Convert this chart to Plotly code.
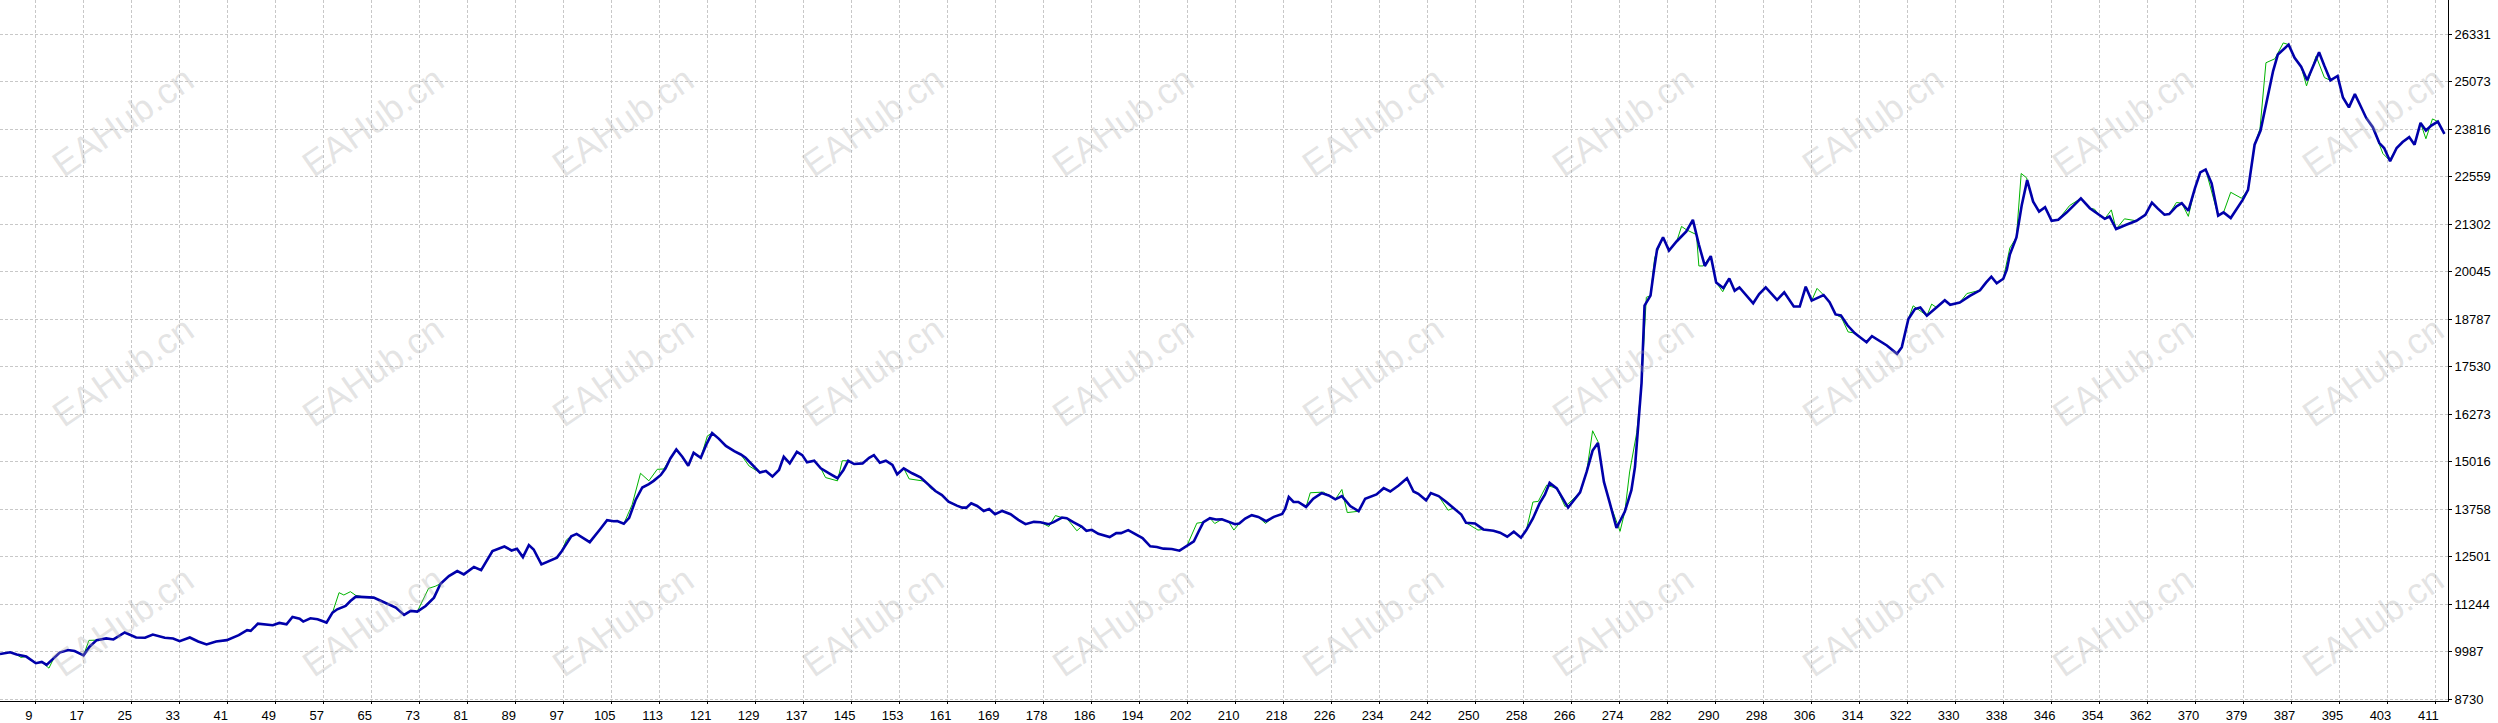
import numpy as np
import plotly.graph_objects as go

# balance curve (blue) - bar index / value
bal_bars = [3, 4.7, 5.8, 7.4, 9, 10, 10.8, 12, 13, 14.4, 15.5, 17, 18, 19.2, 20.8, 22, 23.9, 25.8, 27.3, 28.6,
            30.6, 32, 33.1, 34.8, 36.2, 37.6, 39.2, 41, 42.4, 43, 44.4, 45, 46.2, 47.6, 48.7, 49.8, 51, 52, 53.2, 53.8,
            55, 56.2, 57.7, 58.7, 59.5, 60.9, 61.7, 62.6, 64, 65.6, 66.5, 68.1, 69.3, 70.7, 71.8, 72.9, 74.3, 75.7, 76.8, 78.2,
            79.6, 80.7, 82.4, 83.6, 84.6, 85.5, 87.5, 88.7, 89.6, 90.6, 91.6, 92.4, 93.7, 95.5, 96.3, 97.1, 98.7, 99.6, 101.8, 103.5,
            104.7, 105.8, 106.4, 107.5, 108.4, 109.5, 110.6, 111.7, 112.5, 113.7, 114.5, 115.3, 116.3, 117.3, 118.3, 119.2, 120.4, 121.4, 122.3, 123.4,
            124.6, 126, 127.1, 127.9, 129, 130.3, 131.3, 132.4, 133.5, 134.3, 135.3, 136.5, 137.4, 138.2, 139.4, 140.5, 141.9, 143.3, 144.3, 145.1,
            146.1, 147.5, 148.6, 149.4, 150.4, 151.4, 152.5, 153.3, 154.4, 155.8, 157.2, 158.2, 159.7, 160.8, 161.9, 163.3, 164.2, 164.9, 165.7, 166.7,
            167.8, 168.7, 169.7, 170.9, 172.3, 173.6, 174.8, 176.2, 177.3, 178.7, 179.5, 180.9, 181.7, 182.8, 184.2, 185, 185.9, 187, 187.9, 188.9,
            190, 190.8, 192, 193.2, 194.4, 195.7, 196.8, 197.9, 199.3, 200.6, 201.8, 203, 203.8, 204.6, 205.7, 206.7, 207.7, 208.8, 209.9, 210.6,
            211.6, 212.7, 213.8, 215.1, 216.4, 217.8, 218.3, 218.9, 219.7, 220.5, 221.8, 223, 224.4, 225.6, 226.7, 227.8, 229.2, 230.6, 231.7, 233.6,
            234.8, 235.9, 237.3, 238.7, 239.8, 240.6, 241.9, 242.7, 244, 245.3, 246.5, 247.8, 248.6, 250.1, 251.5, 253.2, 254.3, 255.5, 256.6, 257.8,
            258.7, 259.8, 260.9, 261.8, 262.6, 263.8, 265.7, 267.7, 268.8, 269.8, 270.7, 271.7, 272.7, 273.8, 275.2, 276.3, 276.9, 277.4, 278, 278.5,
            279.5, 280.1, 280.6, 281.6, 282.6, 283.9, 285.5, 286.6, 287.6, 288.6, 289.6, 290.5, 291.7, 292.7, 293.6, 294.4, 295.6, 296.7, 297.7, 298.8,
            300.7, 301.9, 303.5, 304.5, 305.5, 306.5, 308.5, 309.5, 310.5, 311.4, 312.5, 313.7, 314.6, 315.7, 316.6, 317.7, 319.1, 320.8, 321.6, 322.7,
            323.8, 324.7, 325.8, 327.4, 328.8, 329.7, 331.3, 333, 334.7, 335.7, 336.6, 337.5, 338.6, 339.2, 339.7, 340.8, 341.7, 342.6, 343.6, 344.6,
            345.6, 346.7, 347.8, 349.2, 351.6, 353.1, 354.5, 355.6, 356.4, 357.5, 359.2, 360.9, 362.4, 363.5, 364.5, 365.6, 366.4, 367.6, 368.5, 369.6,
            370.7, 371.6, 372.5, 373.5, 374.6, 375.5, 376.7, 378.7, 379.6, 380.7, 381.7, 383, 383.8, 384.6, 385.7, 386.4, 387.4, 388.5, 389.5, 390.5,
            391.5, 392.4, 393.4, 394.6, 395.5, 396.5, 397.5, 398.3, 399.4, 400.5, 401.6, 402.4, 403.4, 404.5, 405.5, 406.6, 407.5, 408.5, 409.4, 410.3,
            411.4, 412.5]
bal_vals = [9929, 9974, 9914, 9861, 9686, 9720, 9641, 9817, 9966, 10034, 10008, 9895, 10123, 10296, 10341, 10315, 10498, 10367, 10358, 10445,
            10358, 10341, 10270, 10367, 10262, 10184, 10262, 10296, 10385, 10428, 10559, 10541, 10734, 10708, 10690, 10752, 10717, 10909, 10865, 10787,
            10875, 10848, 10761, 11024, 11112, 11200, 11332, 11446, 11437, 11420, 11358, 11244, 11156, 10963, 11068, 11050, 11200, 11420, 11789, 11991,
            12123, 12035, 12229, 12149, 12431, 12650, 12773, 12668, 12712, 12492, 12809, 12694, 12299, 12413, 12480, 12650, 13046, 13108, 12888, 13222,
            13468, 13441, 13445, 13375, 13532, 14012, 14335, 14422, 14510, 14667, 14841, 15103, 15339, 15147, 14911, 15252, 15121, 15496, 15776, 15627,
            15435, 15295, 15208, 15121, 14929, 14728, 14772, 14623, 14798, 15147, 14972, 15278, 15191, 14999, 15042, 14841, 14710, 14580, 14798, 15042,
            14955, 14972, 15121, 15191, 14990, 15042, 14929, 14684, 14841, 14710, 14605, 14460, 14240, 14135, 13959, 13854, 13802, 13802, 13916, 13846,
            13714, 13767, 13627, 13714, 13627, 13478, 13364, 13425, 13417, 13364, 13417, 13539, 13521, 13417, 13302, 13189, 13215, 13110, 13066, 13022,
            13127, 13127, 13206, 13110, 12996, 12777, 12759, 12716, 12707, 12663, 12777, 12908, 13171, 13417, 13521, 13486, 13495, 13434, 13364, 13380,
            13514, 13601, 13557, 13444, 13557, 13636, 13775, 14081, 13950, 13950, 13819, 14037, 14186, 14125, 14020, 14107, 13845, 13706, 14037, 14151,
            14317, 14229, 14386, 14579, 14229, 14168, 13994, 14186, 14107, 13950, 13793, 13618, 13400, 13383, 13225, 13190, 13138, 13033, 13164, 13007,
            13208, 13514, 13906, 14142, 14455, 14309, 13803, 14204, 14745, 15311, 15512, 14483, 13916, 13262, 13698, 14265, 14876, 15878, 17099, 19148,
            19410, 20107, 20631, 20953, 20604, 20849, 21110, 21415, 20761, 20195, 20456, 19759, 19610, 19863, 19541, 19628, 19410, 19209, 19453, 19628,
            19296, 19497, 19122, 19122, 19645, 19279, 19427, 19235, 18913, 18887, 18625, 18420, 18310, 18178, 18336, 18222, 18091, 17872, 18047, 18791,
            19053, 19097, 18878, 19097, 19290, 19167, 19228, 19403, 19552, 19753, 19911, 19736, 19858, 20103, 20497, 20952, 21810, 22466, 21897, 21634,
            21748, 21389, 21416, 21608, 21985, 21722, 21573, 21442, 21503, 21171, 21285, 21390, 21547, 21871, 21710, 21550, 21568, 21769, 21856, 21655,
            22249, 22669, 22748, 22381, 21524, 21612, 21463, 21944, 22206, 23403, 23779, 24740, 25352, 25789, 25964, 26051, 25702, 25466, 25107, 25483,
            25850, 25483, 25107, 25221, 24653, 24391, 24740, 24478, 24111, 23866, 23447, 23316, 22966, 23316, 23473, 23604, 23403, 23980, 23779, 23910,
            24015, 23692]

# equity curve (green) - only where it leaves the balance line
eq_dev_bars = [6.5, 11.2, 17.9, 59.8, 60.6, 61.7, 62.6, 74.8, 75.9, 97.9, 108.9, 110.3, 111.7, 113.1, 114.2, 121.5, 128.5, 141.3, 143.3, 144.1,
               155.3, 157.5, 158.9, 178.7, 179.8, 183.4, 203.5, 206.5, 209.7, 215, 222.5, 224.7, 227.8, 228.7, 245.6, 250.6, 259.8, 260.7, 262.1, 265.2,
               269.8, 270.7, 274.4, 276, 277.2, 278.8, 280.2, 284.7, 285.5, 287.2, 287.6, 288.3, 291.6, 307.4, 311.5, 312.6, 323.5, 324.9, 326.6, 332.5,
               339.7, 341.6, 342.5, 349.7, 353.9, 356.7, 358.9, 367.6, 369.6, 373.9, 376.7, 378.5, 381.6, 382.6, 384.1, 385.5, 389.4, 391, 392.4, 402.2,
               403.3, 409.4, 410.5]
eq_dev_vals = [9840, 9555, 10290, 11552, 11490, 11578, 11480, 11666, 11720, 12950, 13881, 14710, 14510, 14815, 14824, 15697, 14902, 14597, 14510, 15042,
               14562, 14510, 14310, 13302, 13592, 13189, 13390, 13381, 13208, 13383, 14195, 14212, 14282, 13671, 13732, 13208, 13950, 13967, 14396, 13829,
               15835, 15547, 13175, 14745, 15791, 19366, 20413, 21241, 21154, 21023, 20195, 20195, 19514, 19602, 18826, 18450, 19141, 18983, 19185, 19465,
               20672, 22641, 22527, 21792, 21696, 21678, 21442, 21874, 21507, 21943, 22144, 21987, 23823, 25571, 25676, 26095, 24959, 25745, 25177, 23167,
               22992, 23561, 24085]

x_labels = ['9', '17', '25', '33', '41', '49', '57', '65', '73', '81', '89', '97', '105', '113', '121', '129', '137',
            '145', '153', '161', '169', '178', '186', '194', '202', '210', '218', '226', '234', '242', '250', '258',
            '266', '274', '282', '290', '298', '306', '314', '322', '330', '338', '346', '354', '362', '370', '379',
            '387', '395', '403', '411']
y_ticks = [8730, 9987, 11244, 12501, 13758, 15016, 16273, 17530, 18787, 20045, 21302, 22559, 23816, 25073, 26331]

# equity = balance points, replaced near the spots where green separates
eq = {b: v for b, v in zip(bal_bars, bal_vals) if all(abs(b - d) > 0.6 for d in eq_dev_bars)}
eq.update(dict(zip(eq_dev_bars, eq_dev_vals)))
eq_bars = sorted(eq)
eq_vals = [eq[b] for b in eq_bars]

W, H = 2498, 723
ML, MR, MT, MB = 0, 50, 0, 16
tick_font = dict(family='Liberation Sans', size=13, color='black')

fig = go.Figure()
fig.add_trace(go.Scatter(x=eq_bars, y=eq_vals, mode='lines', name='Equity',
                         line=dict(color='#00b400', width=1)))
fig.add_trace(go.Scatter(x=bal_bars, y=bal_vals, mode='lines', name='Balance',
                         line=dict(color='#0000aa', width=2.6)))

# watermark grid
pw, ph = W - ML - MR, H - MT - MB
for i in range(10):
    for j in range(3):
        fig.add_annotation(text='EAHub.cn', xref='paper', yref='paper',
                           x=(123 + 250 * i) / pw, y=1 - (123 + 252 * j) / ph,
                           xanchor='center', yanchor='middle',
                           showarrow=False, textangle=-35,
                           font=dict(family='Liberation Sans', size=36, color='rgba(170,170,170,0.33)'))

fig.update_layout(
    width=W, height=H,
    margin=dict(l=ML, r=MR, t=MT, b=MB),
    paper_bgcolor='white', plot_bgcolor='white',
    showlegend=False,
)
fig.update_xaxes(
    range=[3.0, 413.1],
    tickvals=np.linspace(int(x_labels[0]), int(x_labels[-1]), len(x_labels)),
    ticktext=x_labels,
    showgrid=True, gridcolor='#c8c8c8', griddash='3px,2px', gridwidth=1,
    showline=True, linecolor='black', linewidth=1,
    ticks='outside', ticklen=2, tickcolor='black', ticklabelshift=-7,
    zeroline=False, tickfont=tick_font,
)
fig.update_yaxes(
    side='right',
    range=[8686, 27231],
    tickvals=y_ticks, ticktext=[str(v) for v in y_ticks],
    showgrid=True, gridcolor='#c8c8c8', griddash='3px,2px', gridwidth=1,
    showline=True, linecolor='black', linewidth=1,
    ticks='outside', ticklen=3, tickcolor='black',
    zeroline=False, tickfont=tick_font,
)

# page body has a default 8px margin; drop it so the chart fills the window
fig.write_html("out.html", config={'displayModeBar': False},
               post_script="document.body.style.margin='0';")
